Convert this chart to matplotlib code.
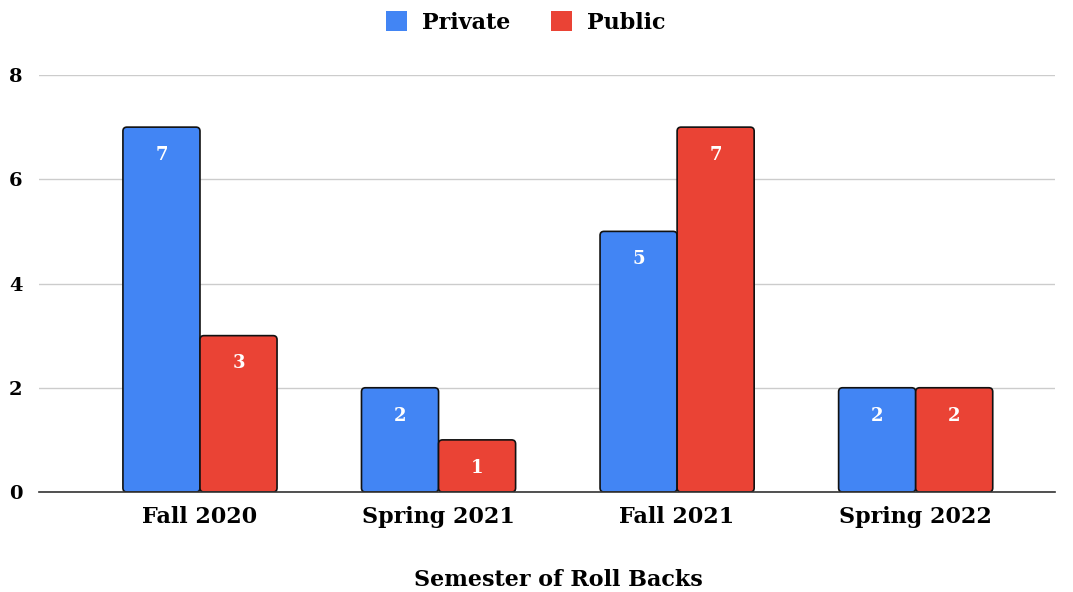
import matplotlib
matplotlib.use("Agg")
import matplotlib.pyplot as plt
from matplotlib.patches import FancyBboxPatch
import numpy as np

categories = ["Fall 2020", "Spring 2021", "Fall 2021", "Spring 2022"]
private_vals = [7, 2, 5, 2]
public_vals = [3, 1, 7, 2]
series_names = ["Private", "Public"]
colors = ["#4285F4", "#EA4335"]
yticks = [0, 2, 4, 6, 8]

plt.rcParams['font.family'] = ['DejaVu Serif']
plt.rcParams['font.weight'] = 'bold'

fig = plt.figure(figsize=(10.73, 5.92), dpi=100)
ax = fig.add_axes([0.0363, 0.1689, 0.9467, 0.7044])

ax.set_xlim(-0.675, 3.583)
ax.set_ylim(0, 8)

x = np.arange(len(categories))
w = 0.323
# pixel -> data conversion for rounded corners
px_x = (3.583 + 0.675) / (0.9467 * 1073)
px_y = 8 / (0.7044 * 592)
r_px = 4
bars = []
for i, (vals, name, c) in enumerate(zip([private_vals, public_vals], series_names, colors)):
    off = (i - 0.5) * w
    b = ax.bar(x + off, vals, width=w, color=c, edgecolor="#111111", linewidth=1.2,
               label=name, zorder=3)
    bars.append(b)
    for rect, v in zip(b, vals):
        rect.set_visible(False)
        fb = FancyBboxPatch((rect.get_x(), rect.get_y()), rect.get_width(), rect.get_height(),
                            boxstyle=f"round,pad=0,rounding_size={r_px * px_x}",
                            mutation_aspect=px_y / px_x,
                            facecolor=c, edgecolor="#111111", linewidth=1.2, zorder=3)
        ax.add_patch(fb)
        ax.annotate(str(v), (rect.get_x() + rect.get_width() / 2, v),
                    xytext=(0, -20), textcoords="offset points",
                    ha="center", va="center", color="white", fontsize=13,
                    fontweight="bold", zorder=4)

ax.set_yticks(yticks)
ax.set_yticklabels([str(t) for t in yticks], fontsize=14, fontweight="bold")
ax.set_xticks(x)
ax.set_xticklabels(categories, fontsize=16, fontweight="bold")
ax.tick_params(axis="y", length=0, pad=12)
ax.tick_params(axis="x", length=0, pad=10)
ax.grid(axis="y", color="#cccccc", linewidth=1, zorder=0)
for s in ["top", "right", "left"]:
    ax.spines[s].set_visible(False)
ax.spines["bottom"].set_color("#333333")
ax.spines["bottom"].set_linewidth(1.2)
ax.spines["bottom"].set_zorder(6)

ax.set_xlabel("Semester of Roll Backs", fontsize=16, fontweight="bold")
ax.xaxis.set_label_coords(0.511, -0.185)

handles = [plt.Rectangle((0, 0), 1, 1, facecolor=c, edgecolor="none") for c in colors]
leg = fig.legend(handles=handles, labels=series_names, loc="center", bbox_to_anchor=(0.49, 0.962),
                 ncol=2, frameon=False, fontsize=16, handlelength=0.95, handleheight=0.95,
                 columnspacing=1.8, handletextpad=0.7)

fig.savefig("out.png", dpi=100, facecolor="white")
